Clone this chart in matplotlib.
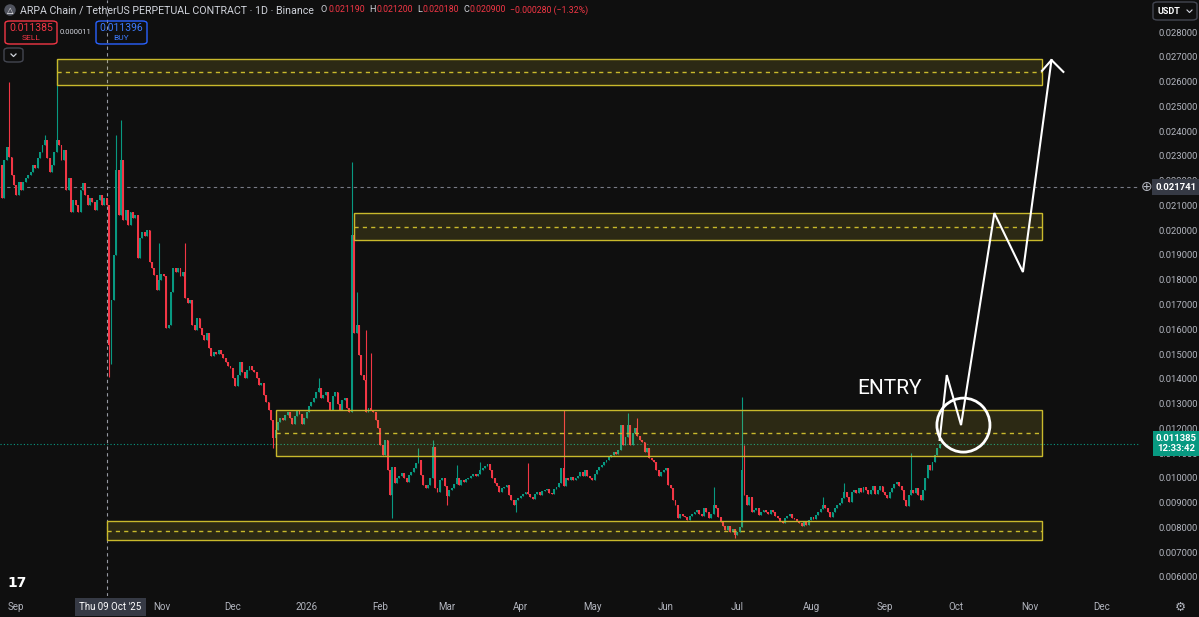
import numpy as np
import matplotlib
matplotlib.use('Agg')
import matplotlib.pyplot as plt
import matplotlib.transforms as mtransforms
from matplotlib.patches import Rectangle, Ellipse, FancyBboxPatch
from matplotlib.lines import Line2D

# ---- data ----
start_date = np.datetime64('2025-08-26')
first_open = 0.02263
closes = [
    0.02130, 0.02283, 0.02336, 0.02295, 0.02223, 0.02182, 0.02142, 0.02194, 0.02162, 0.02194,
    0.02211, 0.02223, 0.02235, 0.02263, 0.02251, 0.02291, 0.02316, 0.02344, 0.02364, 0.02291,
    0.02235, 0.02263, 0.02316, 0.02364, 0.02344, 0.02283, 0.02324, 0.02162, 0.02211, 0.02073,
    0.02122, 0.02102, 0.02073, 0.02162, 0.02190, 0.02142, 0.02102, 0.02130, 0.02114, 0.02081,
    0.02122, 0.02142, 0.02102, 0.02130, 0.02102, 0.01536, 0.01718, 0.01900, 0.02243, 0.02061,
    0.02283, 0.02041, 0.02081, 0.02021, 0.02073, 0.02049, 0.02061, 0.01888, 0.01968, 0.01993,
    0.01976, 0.02001, 0.01872, 0.01847, 0.01819, 0.01759, 0.01799, 0.01823, 0.01815, 0.01605,
    0.01617, 0.01750, 0.01847, 0.01831, 0.01847, 0.01815, 0.01831, 0.01726, 0.01706, 0.01718,
    0.01617, 0.01597, 0.01645, 0.01605, 0.01577, 0.01557, 0.01585, 0.01524, 0.01492, 0.01508,
    0.01500, 0.01516, 0.01500, 0.01484, 0.01468, 0.01452, 0.01444, 0.01403, 0.01371, 0.01416,
    0.01468, 0.01428, 0.01403, 0.01436, 0.01452, 0.01436, 0.01428, 0.01403, 0.01375, 0.01383,
    0.01335, 0.01306, 0.01274, 0.01234, 0.01161, 0.01193, 0.01226, 0.01242, 0.01234, 0.01254,
    0.01266, 0.01242, 0.01217, 0.01250, 0.01274, 0.01258, 0.01217, 0.01242, 0.01266, 0.01290,
    0.01306, 0.01322, 0.01347, 0.01363, 0.01322, 0.01335, 0.01347, 0.01306, 0.01274, 0.01331,
    0.01347, 0.01298, 0.01274, 0.01314, 0.01322, 0.01282, 0.01266, 0.01980, 0.01585, 0.01617,
    0.01496, 0.01416, 0.01395, 0.01266, 0.01282, 0.01274, 0.01266, 0.01234, 0.01201, 0.01133,
    0.01092, 0.01153, 0.01032, 0.00931, 0.01044, 0.00979, 0.00999, 0.01007, 0.01019, 0.00999,
    0.00983, 0.01011, 0.01024, 0.01040, 0.01060, 0.01072, 0.01011, 0.00971, 0.00959, 0.00971,
    0.00999, 0.01125, 0.00959, 0.00943, 0.00991, 0.00999, 0.00967, 0.00927, 0.00951, 0.00959,
    0.00975, 0.00999, 0.00971, 0.00991, 0.00983, 0.00995, 0.00999, 0.01007, 0.01015, 0.01007,
    0.01015, 0.01032, 0.01040, 0.01048, 0.01056, 0.01032, 0.00999, 0.00979, 0.00967, 0.00943,
    0.00959, 0.00963, 0.00971, 0.00931, 0.00911, 0.00890, 0.00911, 0.00919, 0.00927, 0.00935,
    0.00943, 0.00935, 0.00923, 0.00915, 0.00935, 0.00943, 0.00931, 0.00947, 0.00951, 0.00955,
    0.00939, 0.00935, 0.00955, 0.00963, 0.00979, 0.01040, 0.00967, 0.00999, 0.00991, 0.01003,
    0.00991, 0.00999, 0.01007, 0.01024, 0.01007, 0.01032, 0.01007, 0.00999, 0.00991, 0.01015,
    0.01032, 0.01044, 0.01052, 0.01064, 0.01072, 0.01084, 0.01092, 0.01104, 0.01096, 0.01113,
    0.01213, 0.01133, 0.01165, 0.01213, 0.01133, 0.01181, 0.01201, 0.01169, 0.01153, 0.01145,
    0.01104, 0.01121, 0.01080, 0.01072, 0.01064, 0.01032, 0.01007, 0.01024, 0.01032, 0.01040,
    0.00971, 0.00959, 0.00911, 0.00890, 0.00838, 0.00854, 0.00846, 0.00842, 0.00830, 0.00846,
    0.00854, 0.00862, 0.00870, 0.00854, 0.00846, 0.00878, 0.00862, 0.00838, 0.00854, 0.00890,
    0.00878, 0.00842, 0.00822, 0.00806, 0.00790, 0.00806, 0.00782, 0.00794, 0.00770, 0.00782,
    0.00802, 0.01032, 0.00931, 0.00890, 0.00923, 0.00862, 0.00870, 0.00878, 0.00850, 0.00862,
    0.00870, 0.00862, 0.00854, 0.00870, 0.00862, 0.00846, 0.00838, 0.00826, 0.00818, 0.00838,
    0.00846, 0.00854, 0.00838, 0.00834, 0.00826, 0.00818, 0.00806, 0.00822, 0.00810, 0.00830,
    0.00842, 0.00834, 0.00850, 0.00862, 0.00874, 0.00890, 0.00878, 0.00862, 0.00842, 0.00862,
    0.00878, 0.00890, 0.00899, 0.00919, 0.00943, 0.00923, 0.00903, 0.00943, 0.00951, 0.00939,
    0.00959, 0.00943, 0.00963, 0.00951, 0.00935, 0.00951, 0.00967, 0.00935, 0.00951, 0.00967,
    0.00943, 0.00931, 0.00919, 0.00943, 0.00959, 0.00975, 0.00983, 0.00967, 0.00951, 0.00911,
    0.00886, 0.00931, 0.00951, 0.00939, 0.00959, 0.00931, 0.00911, 0.00951, 0.00999, 0.01052,
    0.01032, 0.01064, 0.01092, 0.01121, 0.011385,
]
# candle index -> wick extreme, where a wick stands out
wick_highs = {3: 0.02598, 18: 0.02384, 23: 0.02691, 48: 0.02384, 50: 0.02445, 66: 0.01948,
              77: 0.01948, 133: 0.01403, 147: 0.02275, 148: 0.02069, 149: 0.01750,
              153: 0.01597, 155: 0.01504, 175: 0.01120, 181: 0.01153, 191: 0.01052,
              201: 0.01064, 221: 0.01060, 236: 0.01274, 263: 0.01262, 267: 0.01242,
              299: 0.00963, 311: 0.01327, 312: 0.01133, 345: 0.00923, 354: 0.00979,
              382: 0.01100}
wick_lows = {45: 0.01407, 46: 0.01460, 114: 0.01120, 164: 0.00838, 187: 0.00890,
             216: 0.00862, 308: 0.00757}

# supply / demand zones
zone_low = [0.02586, 0.01960, 0.01088, 0.00749]
zone_high = [0.02691, 0.02069, 0.01274, 0.00826]
zone_mid = [0.02637, 0.02013, 0.01181, 0.00786]
zone_from = ['2025-09-18', '2026-01-21', '2025-12-19', '2025-10-09']
zone_to = '2026-11-06'

# drawn projection
path_dates = ['2026-09-24', '2026-09-27', '2026-10-03', '2026-10-17', '2026-10-29', '2026-11-10']
path_prices = [0.01153, 0.01415, 0.01213, 0.02069, 0.01831, 0.02687]
head_dates = ['2026-11-06', '2026-11-10', '2026-11-15']
head_prices = [0.02643, 0.02687, 0.02639]
circle_date = '2026-10-04'
circle_price = 0.01213

# first Oct label is hidden under the crosshair date label
month_labels = ['Sep', '', 'Nov', 'Dec', '2026', 'Feb', 'Mar', 'Apr', 'May', 'Jun',
                'Jul', 'Aug', 'Sep', 'Oct', 'Nov', 'Dec']
price_ticks = [0.006, 0.007, 0.008, 0.009, 0.010, 0.011, 0.012, 0.013, 0.014, 0.015, 0.016,
               0.017, 0.018, 0.019, 0.020, 0.021, 0.022, 0.023, 0.024, 0.025, 0.026, 0.027, 0.028]
crosshair_date = '2025-10-09'
marked_price = 0.021741
last_price = 0.011385
header_ohlc = [('O', '0.021190'), ('H', '0.021200'), ('L', '0.020180'), ('C', '0.020900')]
header_change = '\u22120.000280 (\u22121.32%)'

BG = '#0f0f0f'
UP = '#089981'
DOWN = '#f23645'
ZONE = '#c9b92c'
TXT = '#b2b5be'
plt.rcParams['font.family'] = ['Roboto', 'DejaVu Sans']


def day(d):
    return int((np.datetime64(d) - start_date).astype(int))


W, H = 1199, 617


def fx(x):
    return x / W


def fy(y):
    return 1 - y / H


fig = plt.figure(figsize=(11.99, 6.17), dpi=100, facecolor=BG)
ax = fig.add_axes([0, 21 / H, 1140 / W, 596 / H])
ax.set_facecolor(BG)
for s in ax.spines.values():
    s.set_visible(False)

# candles
closes = np.array(closes)
opens = np.r_[first_open, closes[:-1]]
x = np.arange(len(closes))
highs = np.maximum(opens, closes)
lows = np.minimum(opens, closes)
for k, v in wick_highs.items():
    highs[k] = v
for k, v in wick_lows.items():
    lows[k] = v
cols = np.where(closes >= opens, UP, DOWN)
ax.vlines(x, lows, highs, colors=cols, lw=0.8, zorder=2)
ax.bar(x, np.maximum(np.abs(closes - opens), 0.00005), bottom=np.minimum(opens, closes),
       width=0.8, color=cols, lw=0, zorder=2)

# zones
x_end = day(zone_to)
for lo, hi, mid, f in zip(zone_low, zone_high, zone_mid, zone_from):
    x0 = day(f)
    ax.add_patch(Rectangle((x0, lo), x_end - x0, hi - lo, facecolor='#ffeb3b', alpha=0.12,
                           edgecolor='none', zorder=3))
    ax.add_patch(Rectangle((x0, lo), x_end - x0, hi - lo, facecolor='none',
                           edgecolor=ZONE, lw=1.0, zorder=3))
    ax.plot([x0, x_end], [mid, mid], color=ZONE, lw=1.0, ls=(0, (3, 3)), zorder=3)

# reference lines
ax.axhline(marked_price, color='#787b86', lw=0.8, ls=(0, (3, 3)), zorder=1)
ax.axhline(last_price, color=UP, lw=0.8, ls=(0, (1, 2)), zorder=1)
ax.axvline(day(crosshair_date), color='#9598a1', lw=0.8, ls=(0, (3, 3)), zorder=1)

# drawn projection
px = [day(d) for d in path_dates]
ax.plot(px, path_prices, color='white', lw=1.5, zorder=5, solid_joinstyle='miter')
ax.plot([day(d) for d in head_dates], head_prices, color='white', lw=1.5, zorder=5)
ax.add_patch(Ellipse((day(circle_date), circle_price), 22.3, 0.00218, facecolor='none',
                     edgecolor='white', lw=2.0, zorder=5))
ax.text(day('2026-09-03'), 0.01359, 'ENTRY', color='white', fontsize=15, ha='center',
        va='center', zorder=5)

ax.set_xlim(-0.84, 478.2)
ax.set_ylim(0.005231, 0.029292)

# axes ticks
months = np.arange(np.datetime64('2025-09'), np.datetime64('2027-01'), dtype='datetime64[M]')
ax.set_xticks([day(m.astype('datetime64[D]')) for m in months])
ax.set_xticklabels(month_labels)
ax.yaxis.tick_right()
ax.set_yticks(price_ticks)
ax.set_yticklabels(['%.6f' % p for p in price_ticks])
ax.tick_params(axis='y', length=0, pad=13, labelsize=6.8, labelcolor=TXT)
ax.tick_params(axis='x', length=0, pad=4, labelsize=7, labelcolor=TXT)

# price labels on the scale
tr = mtransforms.blended_transform_factory(fig.transFigure, ax.transData)
fig.text(fx(1176), marked_price, '%.6f' % marked_price, transform=tr, ha='center', va='center',
         color='white', fontsize=6.8, fontweight='bold',
         bbox=dict(boxstyle='square,pad=0.35', fc='#363a45', ec='none'))
fig.text(fx(1147), marked_price, '\u2295', transform=tr, ha='center', va='center',
         color=TXT, fontsize=10, family='DejaVu Sans')
fig.text(fx(1176), last_price, '%.6f\n12:33:42' % last_price, transform=tr, ha='center',
         va='center', color='white', fontsize=6.8, fontweight='bold', linespacing=1.1,
         bbox=dict(boxstyle='square,pad=0.3', fc=UP, ec='none'))

# crosshair date label
trx = mtransforms.blended_transform_factory(ax.transData, fig.transFigure)
fig.text(day(crosshair_date) + 1.4, fy(607), "Thu 09 Oct '25", transform=trx, ha='center',
         va='center', color='white', fontsize=7,
         bbox=dict(boxstyle='square,pad=0.45', fc='#363a45', ec='none'))

# header, laid out piece by piece
fig.text(fx(10), fy(10), '\u25b3', ha='center', va='center', color='white', fontsize=6,
         family='DejaVu Sans',
         bbox=dict(boxstyle='circle,pad=0.15', fc='#50535e', ec='none'))
renderer = fig.canvas.get_renderer()
pieces = [('ARPA Chain / TetherUS PERPETUAL CONTRACT \u00b7 1D \u00b7 Binance', '#d1d4dc', 7.7, 7)]
for k, v in header_ohlc:
    pieces.append((k, '#d1d4dc', 6.6, 1))
    pieces.append((v, DOWN, 6.3, 4))
pieces.append((header_change, DOWN, 6.3, 0))
cur = 20
for s, c, size, gap in pieces:
    t = fig.text(fx(cur), fy(10), s, ha='left', va='center', color=c, fontsize=size)
    cur += t.get_window_extent(renderer).width + gap


def box(x0, y0, x1, y1, ec, fc='none', lw=1.0):
    fig.patches.append(FancyBboxPatch((fx(x0), fy(y1)), fx(x1 - x0), (y1 - y0) / H,
                                      boxstyle='round,pad=0,rounding_size=0.004',
                                      transform=fig.transFigure, fc=fc, ec=ec, lw=lw))


box(5, 21, 57, 44, DOWN)
fig.text(fx(31), fy(28), '0.011385', ha='center', va='center', color=DOWN, fontsize=7.5)
fig.text(fx(31), fy(38.5), 'SELL', ha='center', va='center', color=DOWN, fontsize=6)
fig.text(fx(76), fy(32), '0.000011', ha='center', va='center', color='#d1d4dc', fontsize=5.5)
box(96, 21, 147, 44, '#2962ff')
fig.text(fx(121.5), fy(28), '0.011396', ha='center', va='center', color='#3d7bff', fontsize=7.5)
fig.text(fx(121.5), fy(38.5), 'BUY', ha='center', va='center', color='#3d7bff', fontsize=6)
box(4, 48, 23, 62, '#434651', fc=BG)
fig.lines.append(Line2D([fx(11), fx(13.5), fx(16)], [fy(54), fy(56.5), fy(54)],
                        transform=fig.transFigure, color='#d1d4dc', lw=0.9))

box(1153, 2, 1197, 20, '#434651', fc=BG)
fig.text(fx(1158), fy(11), 'USDT', ha='left', va='center', color='white', fontsize=6.5,
         fontweight='bold')
fig.lines.append(Line2D([fx(1187), fx(1189.5), fx(1192)], [fy(10), fy(12.5), fy(10)],
                        transform=fig.transFigure, color='#d1d4dc', lw=0.8))

# bottom corners
fig.text(fx(17), fy(583), '17', ha='center', va='center', color='white', fontsize=10,
         fontweight='heavy', family='DejaVu Sans')
fig.text(fx(1180), fy(607), '\u2699', ha='center', va='center', color=TXT, fontsize=9,
         family='DejaVu Sans')

fig.savefig('out.png', dpi=100, facecolor=BG)
